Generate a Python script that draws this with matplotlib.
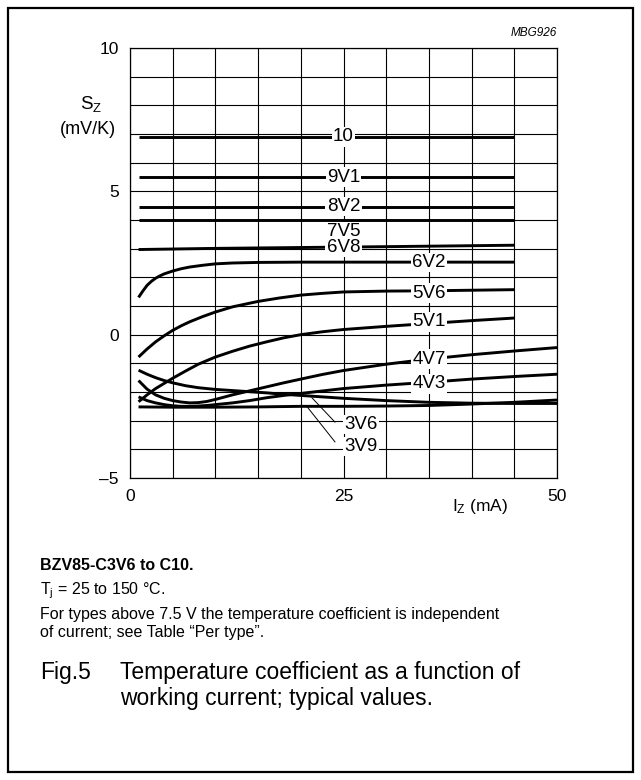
import numpy as np
import matplotlib
matplotlib.use("Agg")
import matplotlib.pyplot as plt
from matplotlib.patches import Rectangle

plt.rcParams['font.family'] = ['Liberation Sans', 'DejaVu Sans']
plt.rcParams['mathtext.fontset'] = 'custom'
plt.rcParams['mathtext.rm'] = 'Liberation Sans'
plt.rcParams['mathtext.it'] = 'Liberation Sans:italic'

### data (Iz in mA, Sz in mV/K)
x_flat = [1, 45]
sz_10 = [6.9, 6.9]
sz_9v1 = [5.5, 5.5]
sz_8v2 = [4.47, 4.47]
sz_7v5 = [4.0, 4.0]

x_6v8 = [1, 10, 20, 30, 45]
sz_6v8 = [2.97, 3.01, 3.04, 3.07, 3.12]

x_6v2 = [1, 1.5, 2, 2.5, 3, 3.5, 4, 5, 6, 7, 8.5, 10, 12, 15, 20, 30, 45]
sz_6v2 = [1.3, 1.52, 1.72, 1.86, 1.97, 2.05, 2.12, 2.22, 2.3, 2.36, 2.42, 2.47, 2.5, 2.52, 2.53, 2.53, 2.53]

x_5v6 = [1, 2, 3, 4, 5, 6, 7, 8.5, 10, 12, 15, 17.5, 20, 22.5, 25, 30, 35, 40, 45]
sz_5v6 = [-0.78, -0.5, -0.25, -0.04, 0.15, 0.31, 0.45, 0.63, 0.79, 0.97, 1.16, 1.28, 1.38, 1.44, 1.49, 1.52, 1.53, 1.55, 1.57]

x_5v1 = [1, 2, 3, 4, 5, 6.5, 8, 10, 12, 14, 16, 18, 20, 22.5, 25, 30, 35, 40, 45]
sz_5v1 = [-2.34, -2.1, -1.88, -1.7, -1.52, -1.27, -1.03, -0.78, -0.58, -0.4, -0.25, -0.11, 0.0, 0.1, 0.18, 0.29, 0.39, 0.49, 0.58]

x_4v7 = [1, 2, 3, 4, 5, 6, 7, 8, 9, 10, 12, 14, 16, 18, 20, 22.5, 25, 30, 35, 40, 45, 50]
sz_4v7 = [-1.6, -1.9, -2.1, -2.22, -2.3, -2.35, -2.38, -2.37, -2.33, -2.26, -2.1, -1.96, -1.82, -1.68, -1.55, -1.39, -1.25,
          -1.03, -0.85, -0.7, -0.57, -0.45]

x_4v3 = [1, 2, 3, 4, 5, 6, 7, 8, 9, 10, 12, 14, 16, 18, 20, 25, 30, 35, 40, 45, 50]
sz_4v3 = [-2.17, -2.3, -2.38, -2.44, -2.48, -2.5, -2.5, -2.49, -2.47, -2.44, -2.38, -2.3, -2.2, -2.12, -2.05, -1.88, -1.76,
          -1.66, -1.55, -1.46, -1.38]

x_3v6 = [1, 2, 3, 4, 5, 6.5, 8, 10, 12, 14, 16, 18, 20, 25, 30, 35, 40, 45, 50]
sz_3v6 = [-1.24, -1.38, -1.5, -1.6, -1.68, -1.78, -1.85, -1.91, -1.95, -1.99, -2.03, -2.08, -2.12, -2.22, -2.3, -2.36,
          -2.39, -2.4, -2.4]

x_3v9 = [1, 5, 10, 15, 20, 25, 30, 35, 40, 45, 50]
sz_3v9 = [-2.52, -2.53, -2.53, -2.52, -2.5, -2.5, -2.49, -2.47, -2.42, -2.36, -2.28]

x_ticks = list(range(0, 51, 5))
x_ticklabels = ['0', '', '', '', '', '25', '', '', '', '', '50']
y_ticks = list(range(-5, 11))
y_ticklabels = ['\u20135', '', '', '', '', '0', '', '', '', '', '5', '', '', '', '', '10']

fig = plt.figure(figsize=(6.41, 7.80), dpi=100)
W, H = 641, 780
ax = fig.add_axes([130 / W, 1 - 478 / H, 427 / W, 430 / H])

curves = [
    (x_flat, sz_10), (x_flat, sz_9v1), (x_flat, sz_8v2), (x_flat, sz_7v5),
    (x_6v8, sz_6v8), (x_6v2, sz_6v2), (x_5v6, sz_5v6), (x_5v1, sz_5v1),
    (x_4v7, sz_4v7), (x_4v3, sz_4v3), (x_3v6, sz_3v6), (x_3v9, sz_3v9),
]
for xs, ys in curves:
    ax.plot(xs, ys, color='black', lw=2.1, solid_capstyle='butt', solid_joinstyle='round', zorder=3)

ax.set_xlim(0, 50)
ax.set_ylim(-5, 10)
ax.set_xticks(x_ticks)
ax.set_xticklabels(x_ticklabels)
ax.set_yticks(y_ticks)
ax.set_yticklabels(y_ticklabels)
ax.tick_params(length=0, labelsize=12.5, pad=8)
ax.grid(True, color='black', lw=0.8, zorder=1)
ax.set_axisbelow(True)
for s in ax.spines.values():
    s.set_linewidth(0.9)

box = dict(facecolor='white', edgecolor='none', pad=1.0)
labels = [
    ('10', 25, 6.9), ('9V1', 25, 5.5), ('8V2', 25, 4.47), ('7V5', 25, 3.6),
    ('6V8', 25, 3.05), ('6V2', 35, 2.52), ('5V6', 35, 1.45), ('5V1', 35, 0.45),
    ('4V7', 35, -0.85), ('4V3', 35, -1.72), ('3V6', 27, -3.13), ('3V9', 27, -3.9),
]
for t, lx, ly in labels:
    ax.text(lx, ly, t, fontsize=13.5, ha='center', va='center', bbox=box, zorder=5)

# leaders for the two lowest curves
ax.plot([21.3, 24.0], [-2.2, -3.05], color='black', lw=0.7, zorder=4)
ax.plot([20.7, 24.0], [-2.5, -3.74], color='black', lw=0.7, zorder=4)

fig.text(557 / W, 1 - 33 / H, 'MBG926', fontsize=8.5, style='italic', ha='right', va='center')
fig.text(91 / W, 1 - 104 / H, r'$\mathregular{S_Z}$', fontsize=13.5, ha='center', va='center')
fig.text(88 / W, 1 - 129 / H, '(mV/K)', fontsize=13, ha='center', va='center')
fig.text(480 / W, 1 - 507 / H, r'$\mathregular{I_Z}$ (mA)', fontsize=12.5, ha='center', va='center')

fig.text(40 / W, 1 - 566 / H, 'BZV85-C3V6 to C10.', fontsize=11.5, weight='bold', va='center')
fig.text(40 / W, 1 - 591 / H, '$\\mathregular{T_j}$ = 25 to 150 \u00b0C.', fontsize=11.5, va='center')
fig.text(40 / W, 1 - 615 / H, 'For types above 7.5 V the temperature coefficient is independent',
         fontsize=11.5, va='center')
fig.text(40 / W, 1 - 633 / H, 'of current; see Table \u201cPer type\u201d.', fontsize=11.5, va='center')
fig.text(40 / W, 1 - 672 / H, 'Fig.5', fontsize=16.5, va='center')
fig.text(120 / W, 1 - 672 / H, 'Temperature coefficient as a function of', fontsize=16.5, va='center')
fig.text(120 / W, 1 - 698 / H, 'working current; typical values.', fontsize=16.5, va='center')

fig.patches.append(Rectangle((8 / W, 8 / H), 625 / W, 764 / H, transform=fig.transFigure,
                             fill=False, edgecolor='black', lw=1.6))

plt.savefig('out.png', dpi=100)
